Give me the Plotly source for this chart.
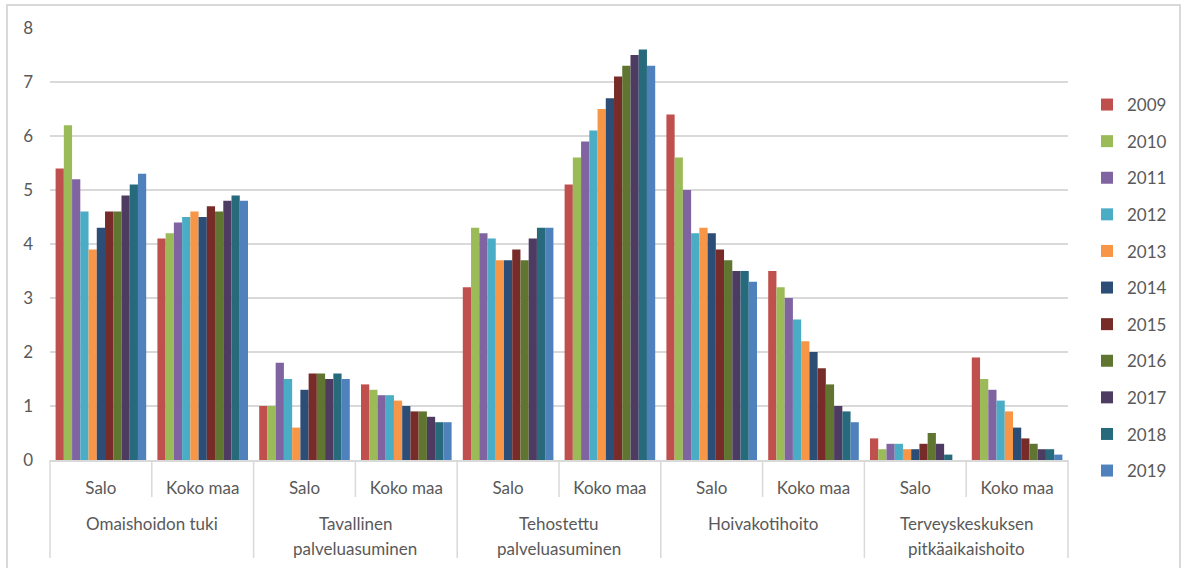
import plotly.graph_objects as go

groups = ["Omaishoidon tuki", "Tavallinen<br>palveluasuminen", "Tehostettu<br>palveluasuminen",
          "Hoivakotihoito", "Terveyskeskuksen<br>pitkäaikaishoito"]
areas = ["Salo", "Koko maa"]
years = ["2009", "2010", "2011", "2012", "2013", "2014", "2015", "2016", "2017", "2018", "2019"]
y_ticks = [0, 1, 2, 3, 4, 5, 6, 7, 8]

# values per year, ordered: group1 Salo, group1 Koko maa, group2 Salo, ...
v2009 = [5.4, 4.1, 1.0, 1.4, 3.2, 5.1, 6.4, 3.5, 0.4, 1.9]
v2010 = [6.2, 4.2, 1.0, 1.3, 4.3, 5.6, 5.6, 3.2, 0.2, 1.5]
v2011 = [5.2, 4.4, 1.8, 1.2, 4.2, 5.9, 5.0, 3.0, 0.3, 1.3]
v2012 = [4.6, 4.5, 1.5, 1.2, 4.1, 6.1, 4.2, 2.6, 0.3, 1.1]
v2013 = [3.9, 4.6, 0.6, 1.1, 3.7, 6.5, 4.3, 2.2, 0.2, 0.9]
v2014 = [4.3, 4.5, 1.3, 1.0, 3.7, 6.7, 4.2, 2.0, 0.2, 0.6]
v2015 = [4.6, 4.7, 1.6, 0.9, 3.9, 7.1, 3.9, 1.7, 0.3, 0.4]
v2016 = [4.6, 4.6, 1.6, 0.9, 3.7, 7.3, 3.7, 1.4, 0.5, 0.3]
v2017 = [4.9, 4.8, 1.5, 0.8, 4.1, 7.5, 3.5, 1.0, 0.3, 0.2]
v2018 = [5.1, 4.9, 1.6, 0.7, 4.3, 7.6, 3.5, 0.9, 0.1, 0.2]
v2019 = [5.3, 4.8, 1.5, 0.7, 4.3, 7.3, 3.3, 0.7, 0.0, 0.1]
values = [v2009, v2010, v2011, v2012, v2013, v2014, v2015, v2016, v2017, v2018, v2019]

colors = ["#C0504D", "#9BBB59", "#8064A2", "#4BACC6", "#F79646", "#2C4D75",
          "#772C2A", "#5F7530", "#4D3B62", "#276A7C", "#4F81BD"]

sub_labels = [a for _ in groups for a in areas]
pos = list(range(len(sub_labels)))
n = len(sub_labels)

# plot geometry (pixels)
W, H = 1186, 568
L, R, T, B = 50, 118, 28, 108
pw, ph = W - L - R, H - T - B
FONT = "Lato, 'Open Sans', sans-serif"
TXT = "#595959"
GRID = "#D9D9D9"

fig = go.Figure()
for yname, vals, c in zip(years, values, colors):
    fig.add_trace(go.Bar(x=pos, y=vals, name=yname, marker_color=c,
                         marker_line_width=0, legendgroup=yname))

def px_y(p):  # pixels below axis -> paper y
    return -p / ph

shapes = []
# subcategory separators
for i in range(1, n, 2):
    xp = i / n
    shapes.append(dict(type="line", xref="paper", yref="paper", x0=xp, x1=xp,
                       y0=0, y1=px_y(37), line=dict(color=GRID, width=1.5)))
# group separators
for g in range(len(groups) + 1):
    xp = 2 * g / n
    shapes.append(dict(type="line", xref="paper", yref="paper", x0=xp, x1=xp,
                       y0=0, y1=px_y(98), line=dict(color=GRID, width=1.5)))
# chart border
shapes.append(dict(type="rect", xref="paper", yref="paper",
                   x0=(7 - L) / pw, x1=(1180 - L) / pw,
                   y0=px_y(115), y1=1 + (T - 5) / ph,
                   line=dict(color=GRID, width=2), fillcolor="rgba(0,0,0,0)",
                   layer="below"))

annotations = []
for g, name in enumerate(groups):
    for k, line in enumerate(name.split("<br>")):
        annotations.append(dict(text=line, xref="paper", yref="paper",
                                x=(2 * g + 1) / n, y=px_y(63 + 25 * k), yanchor="middle",
                                xanchor="center", showarrow=False,
                                font=dict(family=FONT, size=17, color=TXT)))

fig.update_layout(
    width=W, height=H,
    paper_bgcolor="white", plot_bgcolor="white",
    margin=dict(l=L, r=R, t=T, b=B, autoexpand=False),
    barmode="group", bargap=0.11, bargroupgap=0,
    font=dict(family=FONT, size=17, color=TXT),
    legend=dict(x=(1087 - L) / pw, xanchor="left", y=1 - (87 - T) / ph, yanchor="top",
                tracegroupgap=11.5, font=dict(size=17, color=TXT), itemwidth=30,
                bgcolor="rgba(0,0,0,0)"),
    showlegend=True,
    xaxis=dict(range=[-0.5, n - 0.5], tickvals=pos, ticktext=sub_labels,
               showgrid=False, zeroline=False, showline=True,
               linecolor=GRID, linewidth=1.5, ticks="",
               tickfont=dict(size=17, color=TXT), ticklabelstandoff=12,
               automargin=False, fixedrange=True),
    yaxis=dict(range=[0, 8], tickvals=y_ticks, showgrid=True, gridcolor=GRID,
               gridwidth=1.5, zeroline=False, showline=False, ticks="",
               tickfont=dict(size=17, color=TXT), ticklabelstandoff=16,
               automargin=False, fixedrange=True),
    shapes=shapes,
    annotations=annotations,
)
fig.write_html("out.html", config={"displayModeBar": False},
               post_script="document.body.style.margin='0px';")
